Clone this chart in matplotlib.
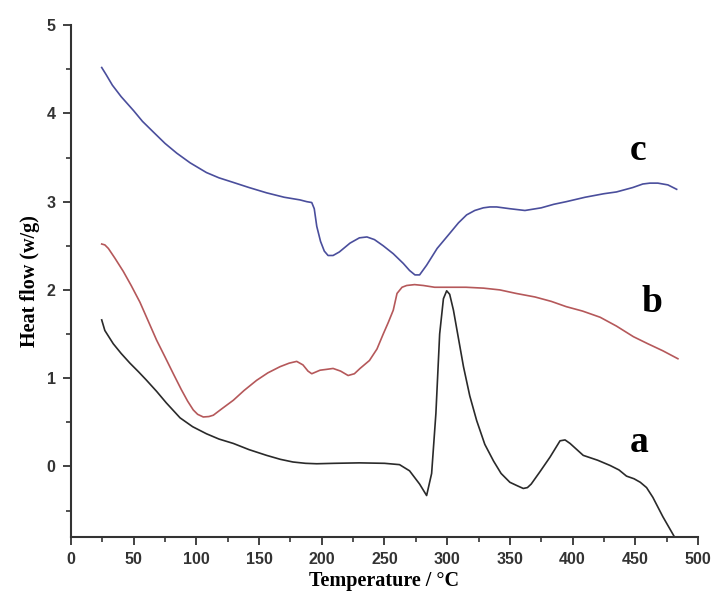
import matplotlib
matplotlib.use('Agg')
import matplotlib.pyplot as plt
from matplotlib.ticker import MultipleLocator

# curve a (black)
temp_a = [24.5, 27, 33.7, 40, 47, 54, 60, 68.3, 76, 87, 97, 108, 118, 129.5, 142, 156, 167, 177, 187,
          196, 210, 230, 250, 262, 270, 278, 283.6, 287.6, 291, 294, 297, 299.6, 302, 305, 309, 313,
          318, 323.5, 330, 337, 343, 350, 356, 360.7, 364, 367, 374, 382, 390, 394, 398, 408.5, 420,
          430, 437, 443, 449, 454, 459, 464, 472, 481.7]
heat_a = [1.66, 1.54, 1.39, 1.28, 1.17, 1.07, 0.98, 0.85, 0.72, 0.55, 0.45, 0.37, 0.31, 0.26, 0.19,
          0.125, 0.08, 0.05, 0.035, 0.03, 0.035, 0.04, 0.035, 0.02, -0.05, -0.2, -0.33, -0.08, 0.6,
          1.5, 1.9, 1.99, 1.95, 1.77, 1.45, 1.13, 0.8, 0.52, 0.25, 0.06, -0.08, -0.18, -0.22, -0.25,
          -0.24, -0.2, -0.06, 0.105, 0.29, 0.3, 0.26, 0.125, 0.07, 0.01, -0.04, -0.11, -0.14, -0.18,
          -0.24, -0.35, -0.57, -0.81]

# curve b (red)
temp_b = [24.5, 27, 29.8, 35, 41.7, 48, 55, 61.5, 68.3, 75, 81.6, 88, 93, 97.5, 101, 105.5, 110,
          113.5, 120, 129.5, 138, 148, 157, 166.7, 174, 180, 185, 189, 192, 198.6, 204, 209, 215, 221,
          226, 230.5, 238, 244, 249, 253, 257, 260, 264, 267.7, 274, 281, 290, 302, 315, 329, 342,
          355, 370, 383, 395, 408, 422, 435, 448.5, 460, 472, 484]
heat_b = [2.52, 2.51, 2.47, 2.36, 2.21, 2.05, 1.86, 1.65, 1.43, 1.24, 1.05, 0.87, 0.74, 0.64, 0.59,
          0.56, 0.565, 0.58, 0.65, 0.75, 0.86, 0.975, 1.06, 1.13, 1.17, 1.19, 1.15, 1.08, 1.05, 1.09,
          1.10, 1.11, 1.08, 1.03, 1.05, 1.11, 1.20, 1.33, 1.50, 1.63, 1.77, 1.96, 2.03, 2.05, 2.06,
          2.05, 2.03, 2.03, 2.03, 2.02, 2.00, 1.96, 1.92, 1.87, 1.81, 1.76, 1.69, 1.59, 1.47, 1.39,
          1.31, 1.22]

# curve c (blue)
temp_c = [24.5, 28, 33, 40, 50, 57, 65.6, 75, 84.3, 95, 108, 118, 129, 142, 156, 170, 182.6, 188,
          192, 194, 196, 199, 202, 205, 209, 214, 222.5, 230, 236, 242, 249, 257, 265, 270, 274.3,
          278, 283.6, 292, 302, 309, 315.5, 322, 328.8, 334, 339.5, 350, 362, 375, 385, 395, 410,
          425, 435, 448, 456, 461.7, 468, 476, 483]
heat_c = [4.52, 4.44, 4.32, 4.19, 4.03, 3.91, 3.79, 3.66, 3.55, 3.44, 3.33, 3.27, 3.22, 3.16, 3.10,
          3.05, 3.02, 3.00, 2.99, 2.92, 2.72, 2.55, 2.44, 2.39, 2.39, 2.43, 2.53, 2.59, 2.60, 2.57,
          2.50, 2.41, 2.30, 2.22, 2.17, 2.17, 2.28, 2.47, 2.64, 2.76, 2.85, 2.90, 2.93, 2.94, 2.94,
          2.92, 2.90, 2.93, 2.97, 3.00, 3.05, 3.09, 3.11, 3.16, 3.20, 3.21, 3.21, 3.19, 3.14]

curve_names = ['a', 'b', 'c']
label_pos = [(453, 0.16), (463, 1.75), (452, 3.47)]

fig = plt.figure(figsize=(7.12, 5.99), dpi=100)
ax = fig.add_axes([0.0997, 0.1035, 0.8806, 0.8545])

ax.plot(temp_a, heat_a, color='#2a2a2a', lw=1.2)
ax.plot(temp_b, heat_b, color='#b5585a', lw=1.2)
ax.plot(temp_c, heat_c, color='#4a4e9c', lw=1.2)

for name, (tx, ty) in zip(curve_names, label_pos):
    ax.text(tx, ty, name, fontsize=27, fontweight='bold', family='Liberation Serif',
            ha='center', va='baseline')

ax.set_xlim(0, 500)
ax.set_ylim(-0.8, 5)
ax.xaxis.set_major_locator(MultipleLocator(50))
ax.xaxis.set_minor_locator(MultipleLocator(25))
ax.yaxis.set_major_locator(MultipleLocator(1))
ax.yaxis.set_minor_locator(MultipleLocator(0.5))

for s in ['top', 'right']:
    ax.spines[s].set_visible(False)
for s in ['left', 'bottom']:
    ax.spines[s].set_linewidth(1.5)
    ax.spines[s].set_color('#333333')

ax.tick_params(which='major', length=6, width=1.3, color='#333333', pad=5)
ax.tick_params(which='minor', length=3.5, width=1.2, color='#333333')
for lbl in ax.get_xticklabels() + ax.get_yticklabels():
    lbl.set_family('Liberation Sans')
    lbl.set_fontweight('bold')
    lbl.set_fontsize(11.5)
    lbl.set_color('#333333')

ax.set_xlabel('Temperature / °C', family='Liberation Serif', fontweight='bold', fontsize=14.5,
              labelpad=3)
ax.set_ylabel('Heat flow (w/g)', family='Liberation Serif', fontweight='bold', fontsize=14.5,
              labelpad=5)

fig.savefig('out.png', dpi=100)
